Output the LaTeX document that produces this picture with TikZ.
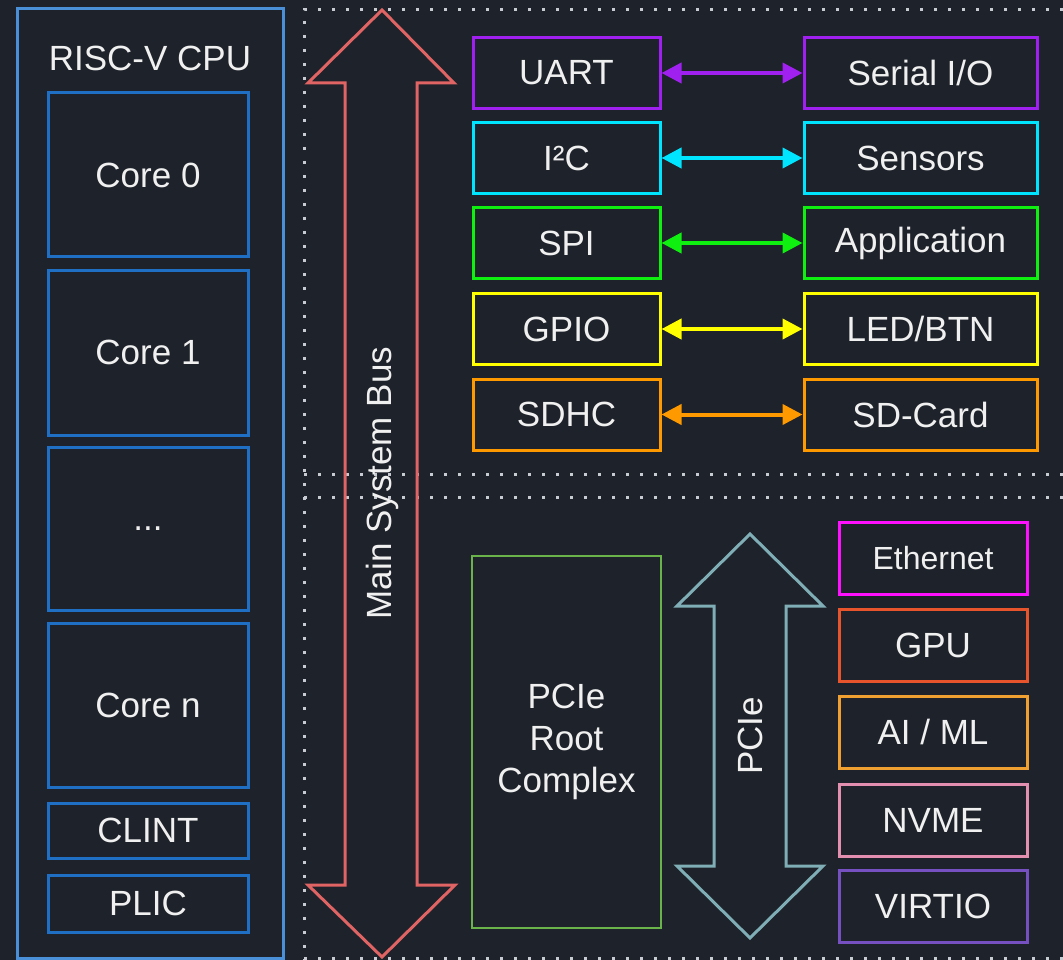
\documentclass[tikz,border=0pt]{standalone}
\usepackage{fontspec}
\setmainfont{Liberation Sans}
\usetikzlibrary{arrows.meta}
\definecolor{bg}{HTML}{1E222A}
\definecolor{txt}{HTML}{F0F0F0}
\definecolor{dotc}{HTML}{C8CCD2}
\definecolor{cpuout}{HTML}{4A90D9}
\definecolor{cpuin}{HTML}{1F6FC5}
\definecolor{busc}{HTML}{E06464}
\definecolor{pciec}{HTML}{7FAEB6}
\definecolor{rcc}{HTML}{6AB34A}
\definecolor{uartc}{HTML}{A020F0}
\definecolor{i2cc}{HTML}{00E5FF}
\definecolor{spic}{HTML}{10F010}
\definecolor{gpioc}{HTML}{FFFF00}
\definecolor{sdhcc}{HTML}{FF9900}
\definecolor{ethc}{HTML}{FF10FF}
\definecolor{gpuc}{HTML}{E8552D}
\definecolor{aic}{HTML}{F0A030}
\definecolor{nvmec}{HTML}{E38FB0}
\definecolor{virtc}{HTML}{7650C0}
\begin{document}
\begin{tikzpicture}[x=1pt,y=-1pt,
  box/.style={draw, line width=3pt, inner sep=0pt, text=txt, font=\fontsize{35}{42}\selectfont, align=center},
  lbox/.style={box, minimum width=187pt, minimum height=71pt},
  rbox/.style={box, minimum width=233pt, minimum height=71pt},
  dbox/.style={box, minimum width=188pt, minimum height=72pt},
  core/.style={box, draw=cpuin, minimum width=200pt},
  link/.style={line width=4pt, {Triangle[length=20pt,width=20pt]}-{Triangle[length=20pt,width=20pt]}},
  dotline/.style={draw=dotc, line width=3pt, dash pattern=on 3pt off 11pt},
  lbl/.style={text=txt, font=\fontsize{35}{42}\selectfont, inner sep=0pt}]
\fill[bg] (0,0) rectangle (1063,960);
\useasboundingbox (0,0) rectangle (1063,960);
% dotted regions
\draw[dotline] (1063,10) -- (304,10) -- (304,960);
\draw[dotline] (304,474) -- (1063,474);
\draw[dotline] (304,497) -- (1063,497);
\draw[dotline] (304,958) -- (1063,958);
% CPU
\node[box, draw=cpuout, minimum width=266pt, minimum height=949pt] (cpu) at (150,483.5) {};
\node[lbl] (cputitle) at (150,58) {RISC-V CPU};
\node[core, minimum height=164pt] (core0) at (148,175) {Core 0};
\node[core, minimum height=165pt] (core1) at (148,352.5) {Core 1};
\node[core, minimum height=163pt] (coredots) at (148,528.5) {...};
\node[core, minimum height=164pt] (coren) at (148,705) {Core n};
\node[core, minimum height=55pt] (clint) at (148,830.5) {CLINT};
\node[core, minimum height=57pt] (plic) at (148,903.5) {PLIC};
% main system bus
\draw[busc, line width=3pt, line join=miter] (382,10) -- (454,83) -- (417,83) -- (417,885) -- (455,885) -- (382,957) -- (308,885) -- (345,885) -- (345,83) -- (308,83) -- cycle;
\node[lbl, rotate=90] (buslabel) at (382,483) {Main System Bus};
% peripherals
\node[lbox, draw=uartc] (uart) at (566.5,73) {UART};
\node[rbox, draw=uartc] (serial) at (920.5,73) {Serial I/O};
\node[lbox, draw=i2cc] (i2c) at (566.5,158) {I²C};
\node[rbox, draw=i2cc] (sensors) at (920.5,158) {Sensors};
\node[lbox, draw=spic] (spi) at (566.5,243) {SPI};
\node[rbox, draw=spic] (app) at (920.5,243) {Application};
\node[lbox, draw=gpioc] (gpio) at (566.5,329) {GPIO};
\node[rbox, draw=gpioc] (led) at (920.5,329) {LED/BTN};
\node[lbox, draw=sdhcc] (sdhc) at (566.5,414.5) {SDHC};
\node[rbox, draw=sdhcc] (sdcard) at (920.5,414.5) {SD-Card};
\draw[link, uartc] (uart) -- (serial);
\draw[link, i2cc] (i2c) -- (sensors);
\draw[link, spic] (spi) -- (app);
\draw[link, gpioc] (gpio) -- (led);
\draw[link, sdhcc] (sdhc) -- (sdcard);
% PCIe
\node[box, draw=rcc, line width=2.5pt, minimum width=189pt, minimum height=372pt] (rc) at (566.5,742) {PCIe\\Root\\Complex};
\draw[pciec, line width=3pt, line join=miter] (750,534) -- (823,606) -- (786,606) -- (786,866) -- (823,866) -- (750,938) -- (677,866) -- (714,866) -- (714,606) -- (677,606) -- cycle;
\node[lbl, rotate=90] (pcielabel) at (750,736) {PCIe};
\node[dbox, draw=ethc, font=\fontsize{32}{38}\selectfont] (eth) at (933,558.5) {Ethernet};
\node[dbox, draw=gpuc] (gpu) at (933,645) {GPU};
\node[dbox, draw=aic] (ai) at (933,732) {AI / ML};
\node[dbox, draw=nvmec] (nvme) at (933,820) {NVME};
\node[dbox, draw=virtc] (virtio) at (933,906.5) {VIRTIO};
\end{tikzpicture}
\end{document}
